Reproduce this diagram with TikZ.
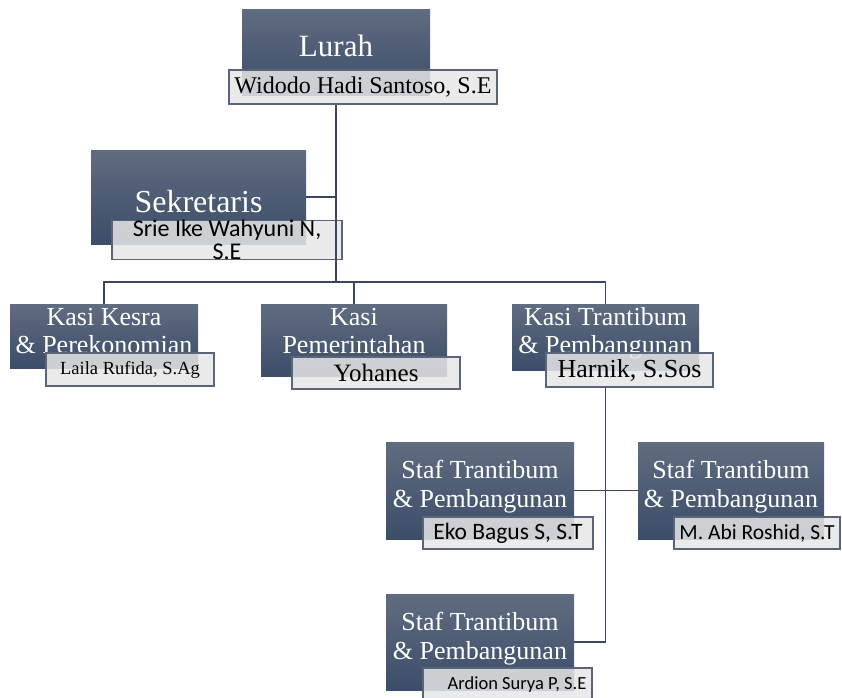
\documentclass[tikz,border=0pt]{standalone}
\usepackage{fontspec}
\setmainfont{Liberation Serif}
\newfontfamily\calibfont{Carlito}
\definecolor{postTop}{HTML}{606C80}
\definecolor{postBot}{HTML}{3C4D69}
\definecolor{nameFill}{HTML}{E6E6E6}
\definecolor{nameEdge}{HTML}{5B6579}
\definecolor{wireC}{HTML}{3B4760}

\begin{document}
\begin{tikzpicture}[x=1pt,y=-1pt,
  post/.style={rectangle,inner sep=0pt,top color=postTop,bottom color=postBot},
  holder/.style={rectangle,draw=nameEdge,line width=1.1pt,fill=nameFill,fill opacity=0.85,text opacity=1,inner sep=0pt,align=center},
  title/.style={text=white,align=center,anchor=base,inner sep=0pt},
  wire/.style={draw=wireC,line width=1.6pt}]
\useasboundingbox (0,0) rectangle (842,697);
% Lurah and Sekretaris
\node[post,minimum width=188,minimum height=86] (lurah) at (336,52) {};
\node[title,font=\fontsize{31}{31}\selectfont] (lurahT) at (336,56) {Lurah};
\node[holder,minimum width=268,minimum height=34,font=\fontsize{24}{24}\selectfont] (lurahName) at (363,87) {Widodo Hadi Santoso, S.E};
\node[post,minimum width=215,minimum height=94] (sekre) at (198.5,197) {};
\node[title,font=\fontsize{32}{32}\selectfont] (sekreT) at (198.5,212) {Sekretaris};
\node[holder,minimum width=230,minimum height=38,font=\calibfont\fontsize{24}{23}\selectfont] (sekreName) at (227,240) {Srie Ike Wahyuni N,\\S.E};
% Kasi (base = last line)
\node[post,minimum width=188,minimum height=64] (kesra) at (104,336) {};
\node[title,font=\fontsize{26}{28}\selectfont] (kesraT) at (104,353) {Kasi Kesra\\\& Perekonomian};
\node[holder,minimum width=168,minimum height=33,font=\fontsize{18.5}{18.5}\selectfont] (kesraName) at (130,369.5) {Laila Rufida, S.Ag};
\node[post,minimum width=186,minimum height=72] (pemer) at (354,340) {};
\node[title,font=\fontsize{26}{28}\selectfont] (pemerT) at (354,353) {Kasi\\Pemerintahan};
\node[holder,minimum width=168,minimum height=32,font=\fontsize{25}{25}\selectfont] (pemerName) at (376,373) {Yohanes};
\node[post,minimum width=187,minimum height=66] (tran) at (605.5,337) {};
\node[title,font=\fontsize{26}{28}\selectfont] (tranT) at (605.5,353) {Kasi Trantibum\\\& Pembangunan};
\node[holder,minimum width=167,minimum height=34,font=\fontsize{26}{26}\selectfont] (tranName) at (629.5,370) {Harnik, S.Sos};
% Staf
\node[post,minimum width=188,minimum height=97] (staf1) at (480,490.5) {};
\node[title,font=\fontsize{26}{29}\selectfont] (staf1T) at (480,507) {Staf Trantibum\\\& Pembangunan};
\node[holder,minimum width=170,minimum height=32,font=\calibfont\fontsize{23.5}{23.5}\selectfont] (staf1Name) at (508,533) {Eko Bagus S, S.T};
\node[post,minimum width=186,minimum height=97] (staf2) at (731,490.5) {};
\node[title,font=\fontsize{26}{29}\selectfont] (staf2T) at (731,507) {Staf Trantibum\\\& Pembangunan};
\node[holder,minimum width=166,minimum height=32,font=\calibfont\fontsize{21.5}{21.5}\selectfont] (staf2Name) at (757,533) {M. Abi Roshid, S.T};
\node[post,minimum width=188,minimum height=96] (staf3) at (480,642) {};
\node[title,font=\fontsize{26}{29}\selectfont] (staf3T) at (480,659) {Staf Trantibum\\\& Pembangunan};
\node[holder,minimum width=169,minimum height=34,font=\calibfont\fontsize{18.5}{18.5}\selectfont] (staf3Name) at (507.5,685) {\hspace*{19pt}Ardion Surya P, S.E};
% connectors
\coordinate (bus) at (335,282);
\draw[wire] (lurahName.south -| lurah) -- (lurah |- bus);
\draw[wire] (sekre.east) -- (sekre.east -| lurah);
\draw[wire] (kesra.north) -- (kesra.north |- bus) -- (tran.north |- bus) -- (tran.north);
\draw[wire] (pemer.north) -- (pemer.north |- bus);
\draw[wire] (tranName.south -| tran) -- (tran |- staf3.east) -- (staf3.east);
\draw[wire] (staf1.east) -- (staf2.west);
\end{tikzpicture}
\end{document}
